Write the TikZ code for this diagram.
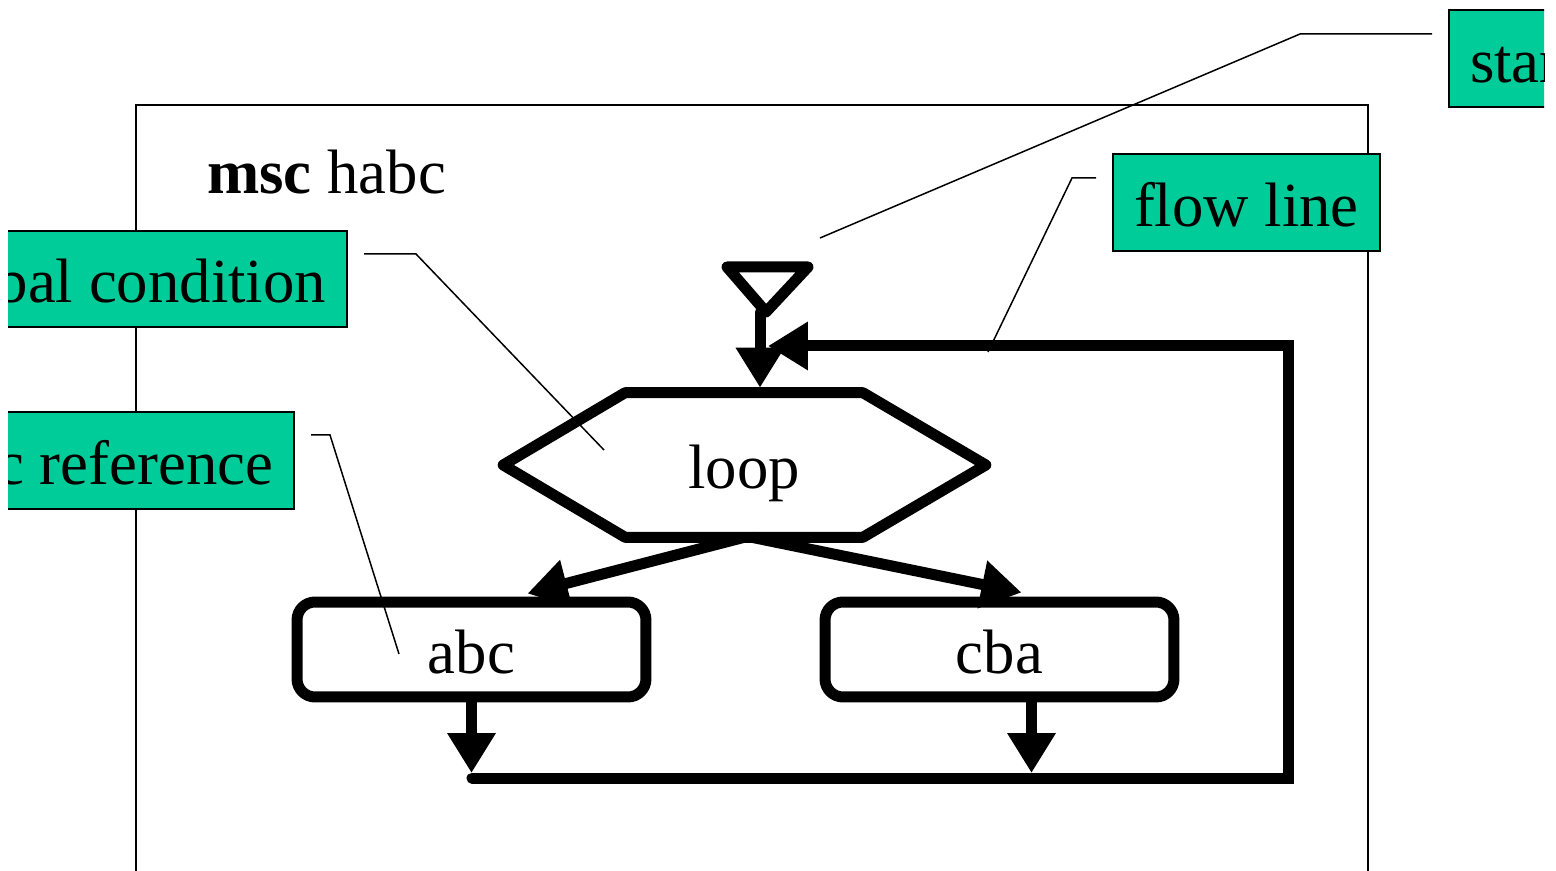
\documentclass[tikz,border=0pt]{standalone}
\usepackage{fontspec}
\setmainfont{Liberation Serif}
\usetikzlibrary{arrows.meta,calc}
\definecolor{notegreen}{RGB}{0,204,153}
\begin{document}
\begin{tikzpicture}[x=0.02cm,y=-0.02cm,
  every node/.style={font=\fontsize{35.7pt}{40pt}\selectfont, text height=0.96cm, text depth=0pt},
  heavy/.style={line width=0.22cm, line join=round, line cap=round},
  flowtip/.style={-{Triangle[length=0.8cm,width=0.92cm]}},
  note/.style={draw, line width=0.04cm, fill=notegreen, minimum height=1.94cm, inner xsep=0.42cm, inner ysep=0pt},
  leader/.style={line width=0.03cm},
  refbox/.style={draw, heavy, rounded corners=0.36cm, minimum width=6.98cm, minimum height=1.9cm, inner sep=0pt},
]
\useasboundingbox (0,0) rectangle (1556,871);
\begin{scope}
\clip (8,0) rectangle (1544,871);

% MSC frame and heading
\draw[line width=0.04cm] (136,900) |- (1368,105) -- (1368,900);
\node[anchor=base west, inner sep=0pt] (title) at (207,194) {\textbf{msc} habc};

% loop condition (hexagon)
\node[minimum width=4.74cm, minimum height=2.88cm, inner sep=0pt] (loop) at (744,465) {loop};
\draw[heavy] (loop.north west) -- (loop.north east) -- ($(loop.east)+(123,0)$)
  -- (loop.south east) -- (loop.south west) -- ($(loop.west)+(-122,0)$) -- cycle;

% MSC references
\node[refbox] (abc) at (471.5,649.5) {abc};
\node[refbox] (cba) at (999.5,649.5) {cba};

% start symbol
\coordinate (s1) at (727,267);
\coordinate (s2) at (808,267);
\coordinate (s3) at (766,312);
\draw[heavy] (s1) -- (s2) -- (s3) -- cycle;
\coordinate (sfoot) at (760,312);
\draw[heavy, flowtip] (sfoot) -- ($(loop.north -| sfoot)+(0,-5)$);

% flow lines
\coordinate (bl) at (472,778);
\coordinate (br) at (1288,778);
\coordinate (tr) at (1288,346);
\coordinate (join) at (768,346);
\draw[heavy, line join=miter, flowtip] (bl) -- (br) -- (tr) -- (join);
\draw[heavy, flowtip] (loop.south) -- ($(abc.north)+(56,-3)$);
\draw[heavy, flowtip] ($(loop.south)+(8,0)$) -- ($(cba.north)+(22,-4)$);
\draw[heavy, flowtip] (abc.south) -- ($(abc.south |- bl)+(0,-5)$);
\draw[heavy, flowtip] ($(cba.south)+(32,0)$) -- ($(cba.south |- bl)+(32,-5)$);

% explanatory notes
\node[note, anchor=west] (start) at (1448,58.5) {start};
\node[note, anchor=west] (flow) at (1112,202.5) {flow line};
\node[note, anchor=east] (cond) at (348,279) {global condition};
\node[note, anchor=east] (ref) at (295,460.5) {msc reference};

% leader lines
\coordinate (startpt) at (820,238);
\coordinate (flowpt) at (988,352);
\coordinate (condpt) at (604,450);
\coordinate (refpt) at (399,654);
\draw[leader] ([shift={(-16,-24.5)}]start.west) -- ++(-132,0) -- (startpt);
\draw[leader] ([shift={(-16,-24.5)}]flow.west) -- ++(-24,0) -- (flowpt);
\draw[leader] ([shift={(16,-25)}]cond.east) -- ++(52,0) -- (condpt);
\draw[leader] ([shift={(16,-25.5)}]ref.east) -- ++(19,0) -- (refpt);
\end{scope}
\end{tikzpicture}
\end{document}
